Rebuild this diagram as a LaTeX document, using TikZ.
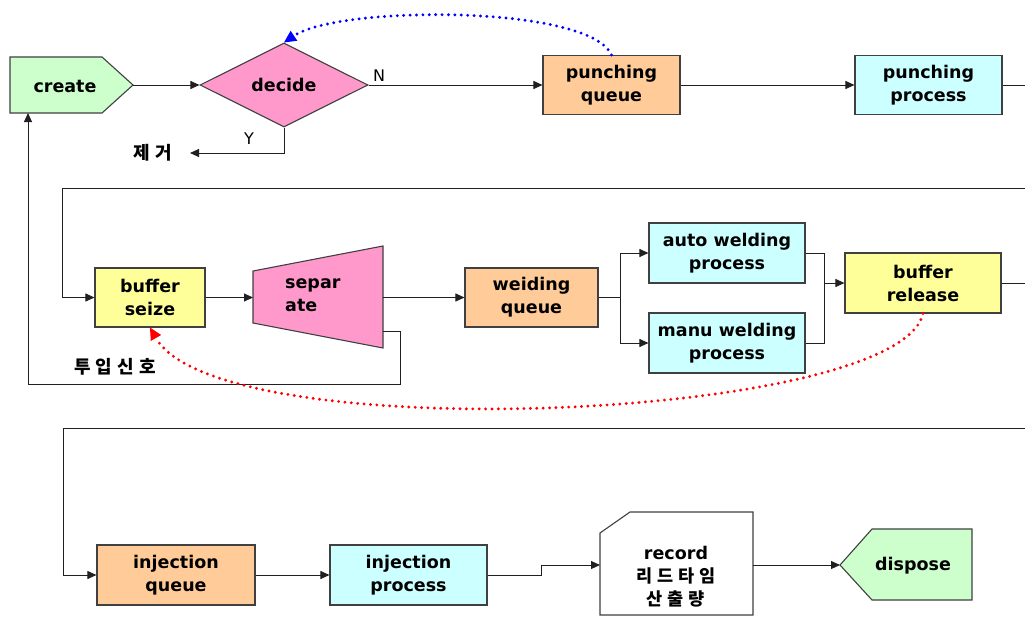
\documentclass[tikz,border=0pt]{standalone}
\usepackage{fontspec}
\setmainfont{DejaVu Sans}
\newfontfamily\kr[LetterSpace=28]{Noto Sans CJK KR}
\usetikzlibrary{arrows.meta,shapes.geometric}
\definecolor{greenfill}{HTML}{CCFFCC}
\definecolor{pinkfill}{HTML}{FF99CC}
\definecolor{queuefill}{HTML}{FFCC99}
\definecolor{procfill}{HTML}{CCFFFF}
\definecolor{buffill}{HTML}{FFFF99}
\definecolor{edge}{HTML}{404040}
\definecolor{linec}{HTML}{202020}
\begin{document}
\begin{tikzpicture}[x=1pt,y=-1pt,
  lbl/.style={font=\fontsize{17.5}{23}\selectfont\bfseries, align=center, inner sep=0pt},
  krlbl/.style={font=\fontsize{18}{23}\selectfont\kr\bfseries, align=center, inner sep=0pt},
  outline/.style={draw=edge, line width=1.1pt},
  box/.style={outline, lbl, minimum height=59pt},
  queuebox/.style={box, fill=queuefill},
  procbox/.style={box, fill=procfill},
  bufbox/.style={box, fill=buffill},
  conn/.style={draw=linec, line width=0.9pt},
  arr/.style={conn, -{Triangle[length=9pt,width=8pt]}},
  signalblue/.style={draw=blue, line width=3.2pt, line cap=round, dash pattern=on 0pt off 6.4pt,
    -{Triangle[length=12pt,width=12pt,line width=0pt]}},
  signalred/.style={draw=red, line width=3.2pt, line cap=round, dash pattern=on 0pt off 6.4pt,
    -{Triangle[length=12pt,width=12pt,line width=0pt]}},
  tag/.style={font=\fontsize{16}{18}\selectfont, inner sep=0pt},
]
\useasboundingbox (0,0) rectangle (1025,618);

% ---------- row 1 ----------
\draw[outline, fill=greenfill] (10,57) -- (102,57) -- (133,85) -- (102,113) -- (10,113) -- cycle;
\node[lbl] (create) at (65,86) {create};
\coordinate (createtip) at (133,85);
\coordinate (createin) at (28,113);

\node[diamond, outline, fill=pinkfill, lbl, minimum width=168pt, minimum height=84pt, aspect=2] (decide) at (284,85) {decide};
\node[queuebox, minimum width=137pt] (pq) at (611.5,85) {punching\\queue};
\node[procbox, minimum width=147pt] (pp) at (928.5,85) {punching\\process};
\node[krlbl] (remove) at (153,153) {제거};
\coordinate (removein) at (190,153);
\node[tag] (nlab) at (379,76) {N};
\node[tag] (ylab) at (249,139) {Y};
\coordinate (e1) at (1025,85);

\draw[arr] (createtip) -- (decide.west);
\draw[arr] (decide.east) -- (pq.west);
\draw[arr] (decide.south) |- (removein);
\draw[arr] (pq.east) -- (pp.west);
\draw[conn] (pp.east) -- (e1);
\draw[signalblue] (pq.north) .. controls (590,5) and (340,5) .. (decide.north);

% ---------- row 2 ----------
\coordinate (e2) at (1025,188);
\coordinate (e3) at (1025,283);
\node[bufbox, minimum width=110pt] (bs) at (150,297.5) {buffer\\seize};
\draw[outline, fill=pinkfill] (253,271) -- (383,246) -- (383,348) -- (253,323) -- cycle;
\node[lbl, align=left, anchor=west] (sep) at (285,295) {separ\\ate};
\coordinate (sepin) at (253,297.5);
\coordinate (sepout) at (383,297.5);
\coordinate (sepfb) at (383,331);
\node[queuebox, minimum width=133pt] (wq) at (531.5,297.5) {weiding\\queue};
\node[procbox, minimum width=156pt, minimum height=60pt] (aw) at (727,253) {auto welding\\process};
\node[procbox, minimum width=156pt, minimum height=60pt] (mw) at (727,343) {manu welding\\process};
\node[bufbox, minimum width=156pt, minimum height=60pt] (br) at (923,283) {buffer\\release};
\node[krlbl] (signal) at (115,367) {투입신호};
\coordinate (split) at (620,297.5);
\coordinate (merge) at (824,283);

\draw[arr] (e2) -- (62,188) |- (bs.west);
\draw[arr] (bs.east) -- (sepin);
\draw[arr] (sepout) -- (wq.west);
\draw[conn] (wq.east) -- (split);
\draw[arr] (split) |- (aw.west);
\draw[arr] (split) |- (mw.west);
\draw[conn] (aw.east) -| (merge);
\draw[conn] (mw.east) -| (merge);
\draw[arr] (merge) -- (br.west);
\draw[conn] (br.east) -- (e3);
\draw[arr] (sepfb) -- (400,331) -- (400,384) -- (28,384) -- (createin);
\draw[signalred] (br.south) .. controls (900,420) and (220,450) .. (bs.south);

% ---------- row 3 ----------
\coordinate (e4) at (1025,428);
\node[queuebox, minimum width=158pt, minimum height=60pt] (iq) at (176,575) {injection\\queue};
\node[procbox, minimum width=157pt, minimum height=60pt] (ip) at (408.5,575) {injection\\process};
\draw[outline, fill=white] (630,512) -- (753,512) -- (753,615) -- (600,615) -- (600,533) -- cycle;
\node[lbl] (rec) at (676,577) {record\\{\kr 리드타임}\\{\kr 산출량}};
\coordinate (recin) at (600,565);
\coordinate (recout) at (753,565);
\draw[outline, fill=greenfill] (840,565) -- (872,529) -- (972,529) -- (972,600) -- (872,600) -- cycle;
\node[lbl] (dispose) at (913,566) {dispose};
\coordinate (disptip) at (840,565);

\draw[arr] (e4) -- (63,428) |- (iq.west);
\draw[arr] (iq.east) -- (ip.west);
\draw[arr] (ip.east) -- (541,575) -- (541,565) -- (recin);
\draw[arr] (recout) -- (disptip);
\end{tikzpicture}
\end{document}
